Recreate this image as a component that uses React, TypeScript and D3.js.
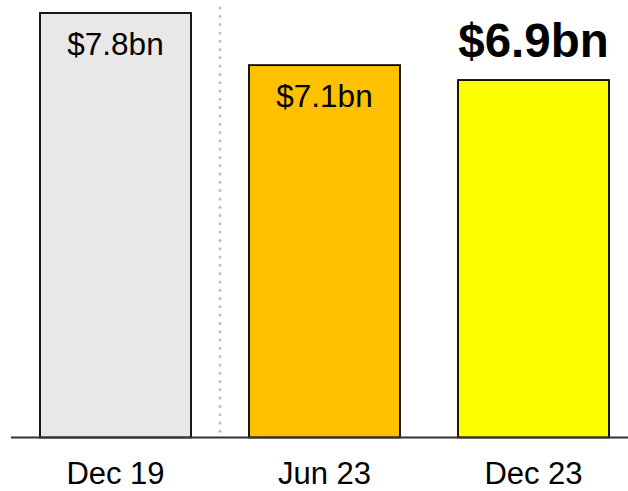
import React from "react";
import * as d3 from "d3";

const categories = ["Dec 19", "Jun 23", "Dec 23"];
const values = [7.8, 7.1, 6.9];
const valueLabels = ["$7.8bn", "$7.1bn", "$6.9bn"];
const colors = ["#E8E8E8", "#FFC000", "#FFFF00"];
const highlight = [false, false, true];

const W = 628;
const H = 491;
const baseY = 437.5;

export default function App() {
  const x = d3
    .scaleBand<string>()
    .domain(categories)
    .range([40, 609])
    .paddingInner(0.2775)
    .paddingOuter(0);
  const y = d3.scaleLinear().domain([2.1, 7.8]).range([baseY, 13]);
  const font = "'Liberation Sans', Arial, sans-serif";
  const sepX = ((x(categories[0]) ?? 0) + x.bandwidth() + (x(categories[1]) ?? 0)) / 2;

  return (
    <svg
      width={W}
      height={H}
      style={{ position: "absolute", left: 0, top: 0, background: "#fff" }}
      fontFamily={font}
    >
      <line
        x1={sepX}
        x2={sepX}
        y1={8}
        y2={433}
        stroke="#BFBFBF"
        strokeWidth={3}
        strokeLinecap="round"
        strokeDasharray="0 8.3"
      />
      {categories.map((c, i) => {
        const bx = x(c) ?? 0;
        const by = y(values[i]);
        const cx = bx + x.bandwidth() / 2;
        return (
          <g key={c}>
            <rect
              x={bx}
              y={by}
              width={x.bandwidth()}
              height={baseY - by}
              fill={colors[i]}
              stroke="#000"
              strokeWidth={1.8}
            />
            {highlight[i] ? (
              <text x={cx} y={by - 23} textAnchor="middle" fontSize={47.5} fontWeight="bold" fill="#000">
                {valueLabels[i]}
              </text>
            ) : (
              <text x={cx} y={by + 42} textAnchor="middle" fontSize={31.5} fill="#000">
                {valueLabels[i]}
              </text>
            )}
            <text x={cx} y={483.5} textAnchor="middle" fontSize={31} fill="#000">
              {c}
            </text>
          </g>
        );
      })}
      <line x1={11} x2={628} y1={baseY} y2={baseY} stroke="#333" strokeWidth={2} />
    </svg>
  );
}
